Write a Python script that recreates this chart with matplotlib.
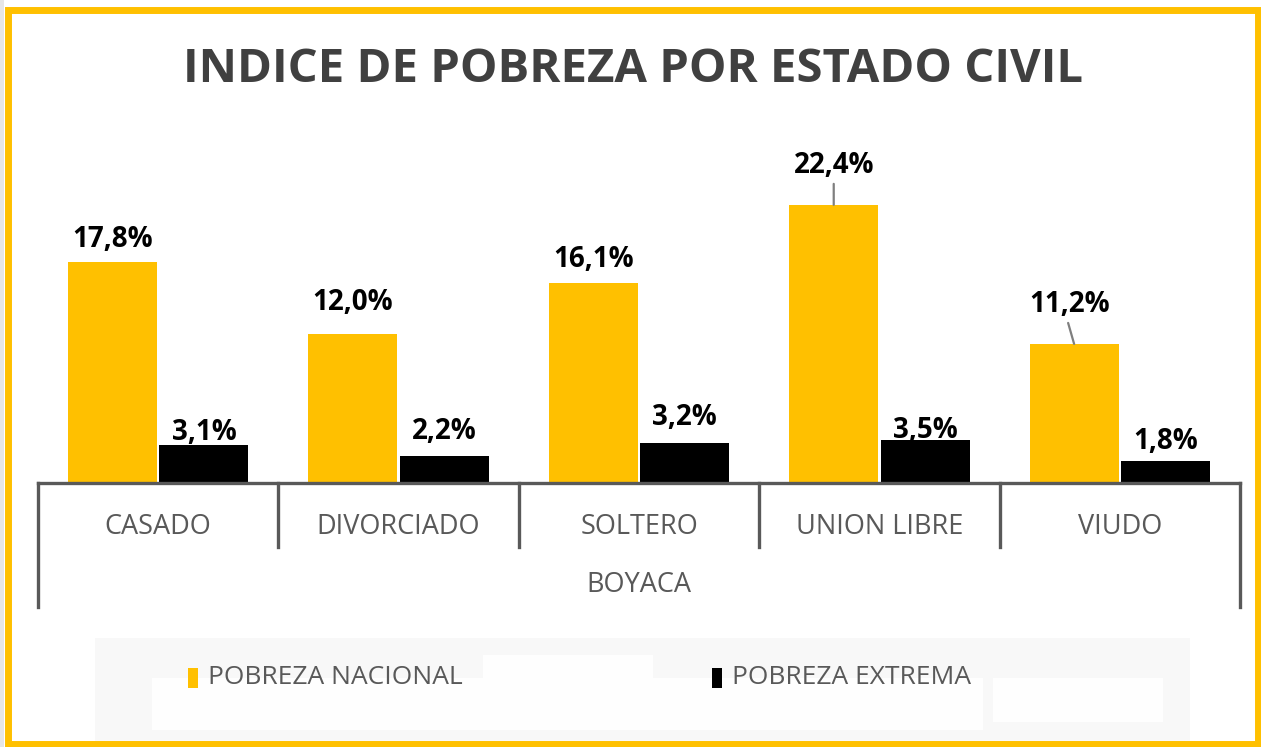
import matplotlib
matplotlib.use("Agg")
import matplotlib.pyplot as plt
from matplotlib.patches import Rectangle
from matplotlib.lines import Line2D

plt.rcParams['font.family'] = ['Open Sans', 'DejaVu Sans']

# data
categories = ["CASADO", "DIVORCIADO", "SOLTERO", "UNION LIBRE", "VIUDO"]
group_label = "BOYACA"
nacional = [17.8, 12.0, 16.1, 22.4, 11.2]
extrema = [3.1, 2.2, 3.2, 3.5, 1.8]
series_names = ["POBREZA NACIONAL", "POBREZA EXTREMA"]
title = "INDICE DE POBREZA POR ESTADO CIVIL"

YELLOW = "#FFC000"
BLACK = "#000000"
AXIS = "#595959"

W, H = 1261, 747
fig = plt.figure(figsize=(W / 100, H / 100), dpi=100)
fig.patch.set_facecolor("white")


def px(x, y):
    # pixel coords (top-left origin) -> figure fraction
    return x / W, 1 - y / H


PT = 0.72  # points per pixel at dpi 100

# axes: baseline at y=483, left 38, right 1240, ylim 0..24 -> top y=185
ax = fig.add_axes([38 / W, 1 - 483 / H, (1240 - 38) / W, (483 - 185) / H])
ax.set_xlim(0, len(categories))
ax.set_ylim(0, 24)
ax.axis("off")

bw = 0.37
xs = range(len(categories))
b1 = ax.bar([i + 0.31 for i in xs], nacional, width=bw, color=YELLOW, zorder=2)
b2 = ax.bar([i + 0.69 for i in xs], extrema, width=bw, color=BLACK, zorder=2)

# label placement: baseline gap above bar top, in pixels
gap_nac = [15, 24, 16, 32, 32]
gap_ext = [5, 17, 18, 2, 12]
shift_nac = [0, 0, 0, 0, -4]


def pct(v):
    return f"{v:.1f}%".replace(".", ",")


for rect, v, g, s in zip(b1, nacional, gap_nac, shift_nac):
    cx = rect.get_x() + rect.get_width() / 2
    ax.annotate(pct(v), (cx, v), xytext=(s * PT, g * PT), textcoords="offset points",
                ha="center", va="baseline", fontsize=20, fontweight="bold", color="black", zorder=4)
    if g > 25:
        ax.annotate("", (cx, v), xytext=(s * 1.5 * PT, (g - 11) * PT), textcoords="offset points",
                    arrowprops=dict(arrowstyle="-", color="#7F7F7F", lw=1.6, shrinkA=0, shrinkB=0))
for rect, v, g in zip(b2, extrema, gap_ext):
    cx = rect.get_x() + rect.get_width() / 2
    ax.annotate(pct(v), (cx, v), xytext=(0, g * PT), textcoords="offset points",
                ha="center", va="baseline", fontsize=20, fontweight="bold", color="black", zorder=4)

# category axis with separators
tr = ax.get_xaxis_transform()
ax.add_line(Line2D([0, len(categories)], [0, 0], transform=tr, color=AXIS, lw=2.4,
                   clip_on=False, zorder=3))
for i in range(len(categories) + 1):
    depth = -0.416 if i in (0, len(categories)) else -0.215
    ax.add_line(Line2D([i, i], [0, depth], transform=tr, color=AXIS, lw=2.4, clip_on=False))
for i, c in enumerate(categories):
    ax.text(i + 0.5, -0.148, c, transform=tr, ha="center", va="center", fontsize=19.5, color=AXIS)
ax.text(len(categories) / 2, -0.342, group_label, transform=tr, ha="center", va="center",
        fontsize=19.5, color=AXIS)

# title
fig.text(*px(633, 70), title, ha="center", va="center", fontsize=34, fontweight="bold",
         color="#404040")

# legend area
x0, y0 = px(95, 747)
fig.add_artist(Rectangle((x0, y0), (1190 - 95) / W, (747 - 638) / H, transform=fig.transFigure,
                         facecolor="#F8F8F8", edgecolor="none", zorder=0))
for (l, t, r, b) in [(483, 655, 653, 708), (152, 678, 983, 730), (993, 678, 1163, 722)]:
    fig.add_artist(Rectangle(px(l, b), (r - l) / W, (b - t) / H, transform=fig.transFigure,
                             facecolor="#FEFEFE", edgecolor="none", zorder=0))
for name, col, hx in zip(series_names, [YELLOW, BLACK], [188, 712]):
    fig.add_artist(Rectangle(px(hx, 688), 10 / W, 20 / H, transform=fig.transFigure,
                             facecolor=col, edgecolor="none", zorder=2))
    fig.text(*px(hx + 20, 678), name, ha="left", va="center", fontsize=19, color=AXIS)

# outer border
fig.add_artist(Rectangle((0, 0), 4 / W, 1, transform=fig.transFigure, facecolor="#E6E6E6",
                         edgecolor="none", zorder=0))
fig.add_artist(Rectangle(px(8, 744), (1258 - 8) / W, (744 - 10) / H, transform=fig.transFigure,
                         facecolor="none", edgecolor=YELLOW, lw=5, zorder=5))

fig.savefig("out.png", dpi=100)
